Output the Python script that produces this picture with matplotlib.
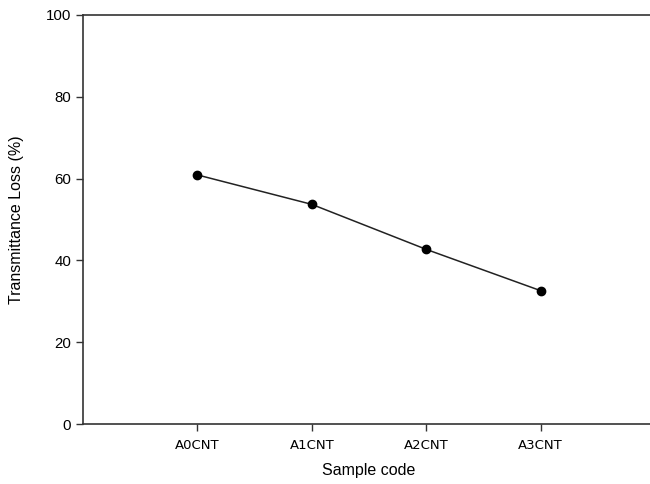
import numpy as np
import matplotlib.pyplot as plt

plt.rcParams['font.family'] = ['Liberation Sans', 'DejaVu Sans']

samples = ['A0CNT', 'A1CNT', 'A2CNT', 'A3CNT']
loss = [60.9, 53.7, 42.7, 32.6]
pos = np.arange(1, len(samples) + 1)

fig = plt.figure(figsize=(6.5, 4.84), dpi=100)
ax = fig.add_axes([83 / 650, 60 / 484, 572 / 650, 409 / 484])

ax.plot(pos, loss, color='#222222', lw=1.1, marker='o', ms=6,
        markerfacecolor='black', markeredgecolor='black')

ax.set_xlim(0, 5)
ax.set_ylim(0, 100)
ax.set_xticks(pos)
ax.set_xticklabels(samples, fontsize=9.5, family='DejaVu Sans')
ax.set_yticks([0, 20, 40, 60, 80, 100])
ax.tick_params(axis='y', labelsize=10.8, direction='out', length=5, width=1, colors='#333333')
ax.tick_params(axis='x', direction='out', length=5, width=1, colors='#333333', pad=6)
for lab in ax.get_xticklabels() + ax.get_yticklabels():
    lab.set_color('black')

for s in ax.spines.values():
    s.set_color('#333333')
    s.set_linewidth(1.2)
ax.spines['right'].set_visible(False)

ax.set_xlabel('Sample code', fontsize=11.5, labelpad=8)
ax.set_ylabel('Transmittance Loss (%)', fontsize=11.5, labelpad=16)

fig.savefig('out.png', dpi=100)
